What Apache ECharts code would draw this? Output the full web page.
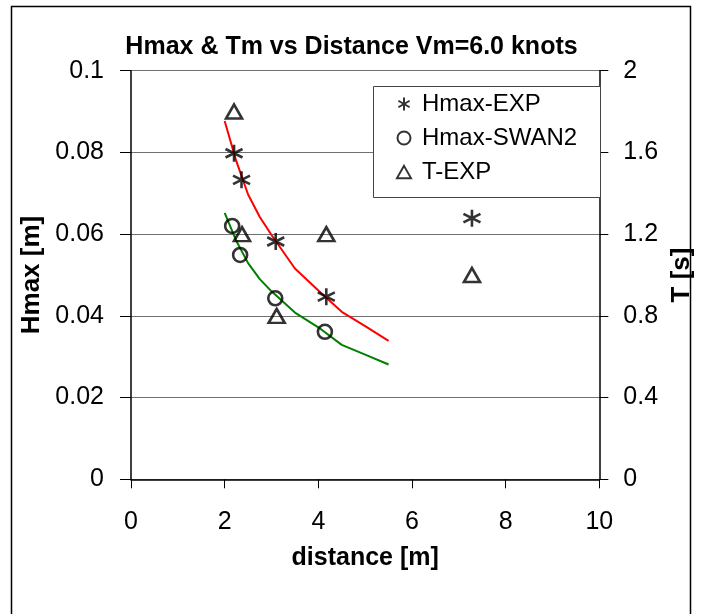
<!DOCTYPE html>
<html>
<head>
<meta charset="utf-8">
<script src="https://cdn.jsdelivr.net/npm/echarts@6/dist/echarts.min.js"></script>
<style>html,body{margin:0;padding:0;background:#fff;}#c{width:703px;height:614px;}</style>
</head>
<body>
<div id="c"></div>
<script>
// ---- data ----
const distEXP  = [2.2, 2.36, 3.09, 4.17, 7.28];
const hmaxEXP  = [0.0798, 0.0733, 0.0582, 0.0447, 0.0639];
const distSWAN = [2.16, 2.33, 3.08, 4.14];
const hmaxSWAN = [0.062, 0.0549, 0.0443, 0.0361];
const distT    = [2.2, 2.37, 3.11, 4.17, 7.28];
const tEXP     = [1.8, 1.2, 0.8, 1.2, 1.0];
const lineDist = [2.0, 2.25, 2.5, 2.75, 3.0, 3.5, 4.0, 4.5, 5.0, 5.5];
const redLine  = [0.0877, 0.0778, 0.0697, 0.0642, 0.0598, 0.0516, 0.0462, 0.041, 0.0375, 0.0339];
const greenLine= [0.0652, 0.0583, 0.0529, 0.049, 0.046, 0.0408, 0.0372, 0.0329, 0.0305, 0.0281];
const xTicks = [0, 2, 4, 6, 8, 10];
const hTicks = [0, 0.02, 0.04, 0.06, 0.08, 0.1];
const tTicks = [0, 0.4, 0.8, 1.2, 1.6, 2];

const zip = (a, b) => a.map((v, i) => [v, b[i]]);
const FONT = 'Liberation Sans';
const ASTER = 'path://M7,0L7,14M0.94,3.5L13.06,10.5M0.94,10.5L13.06,3.5';
const TRI = 'path://M8,0L16,14L0,14Z';

const chart = echarts.init(document.getElementById('c'), null, {renderer: 'canvas'});
const mk = {color: 'transparent', borderColor: '#000', borderWidth: 2.6};
chart.setOption({
  animation: false,
  backgroundColor: '#fff',
  textStyle: {fontFamily: FONT, color: '#000'},
  title: {
    text: 'Hmax & Tm vs Distance Vm=6.0 knots',
    left: 'center', top: 30,
    textStyle: {fontFamily: FONT, fontSize: 25, fontWeight: 'bold', color: '#000'}
  },
  graphic: [
    {type: 'rect', z: 0, silent: true, shape: {x: 11.5, y: 6.5, width: 679, height: 640},
     style: {fill: 'none', stroke: '#000', lineWidth: 1.5}},
    {type: 'rect', z: 3, silent: true, shape: {x: 373.5, y: 86.5, width: 227, height: 111},
     style: {fill: '#fff', stroke: '#444', lineWidth: 1}}
  ],
  legend: {
    orient: 'vertical', left: 396, top: 92, padding: 0, z: 4,
    itemWidth: 14, itemHeight: 13, itemGap: 10,
    data: ['Hmax-EXP', 'Hmax-SWAN2', 'T-EXP'],
    textStyle: {fontFamily: FONT, fontSize: 24, lineHeight: 24, color: '#000', padding: [0, 0, 0, 6]}
  },
  grid: {left: 131, right: 95, top: 70.7, bottom: 134.7, containLabel: false},
  xAxis: {
    type: 'value', min: xTicks[0], max: xTicks[xTicks.length - 1], interval: 2,
    name: 'distance [m]', nameLocation: 'middle', nameGap: 66,
    nameTextStyle: {fontFamily: FONT, fontSize: 25, fontWeight: 'bold', color: '#000'},
    axisLine: {lineStyle: {color: '#000', width: 1.5}},
    axisTick: {show: true, length: 9, lineStyle: {color: '#000'}},
    axisLabel: {fontFamily: FONT, fontSize: 25, color: '#000', margin: 30},
    splitLine: {show: false}
  },
  yAxis: [
    {
      type: 'value', min: hTicks[0], max: hTicks[hTicks.length - 1], interval: 0.02, position: 'left',
      name: 'Hmax [m]', nameLocation: 'middle', nameGap: 86, nameRotate: 90,
      nameTextStyle: {fontFamily: FONT, fontSize: 26, fontWeight: 'bold', color: '#000'},
      axisLine: {show: true, lineStyle: {color: '#000', width: 1.5}},
      axisTick: {show: true, length: 11, lineStyle: {color: '#000'}},
      axisLabel: {fontFamily: FONT, fontSize: 25, color: '#000', margin: 27,
        formatter: v => String(+v.toFixed(2))},
      splitLine: {show: true, lineStyle: {color: '#707070', width: 1}}
    },
    {
      type: 'value', min: tTicks[0], max: tTicks[tTicks.length - 1], interval: 0.4, position: 'right',
      name: 'T [s]', nameLocation: 'middle', nameGap: 68, nameRotate: 90,
      nameTextStyle: {fontFamily: FONT, fontSize: 26, fontWeight: 'bold', color: '#000'},
      axisLine: {show: true, lineStyle: {color: '#000', width: 1.5}},
      axisTick: {show: true, length: 9, lineStyle: {color: '#000'}},
      axisLabel: {fontFamily: FONT, fontSize: 25, color: '#000', margin: 24,
        formatter: v => String(+v.toFixed(1))},
      splitLine: {show: false}
    }
  ],
  series: [
    {name: 'redFit', type: 'line', data: zip(lineDist, redLine), showSymbol: false, symbol: 'none',
     lineStyle: {color: '#ff0000', width: 2}, itemStyle: {color: '#ff0000'}, z: 2},
    {name: 'greenFit', type: 'line', data: zip(lineDist, greenLine), showSymbol: false, symbol: 'none',
     lineStyle: {color: '#008000', width: 2}, itemStyle: {color: '#008000'}, z: 2},
    {name: 'Hmax-EXP', type: 'scatter', data: zip(distEXP, hmaxEXP), symbol: ASTER, symbolSize: 17,
     itemStyle: mk, z: 5},
    {name: 'Hmax-SWAN2', type: 'scatter', data: zip(distSWAN, hmaxSWAN), symbol: 'circle', symbolSize: 14,
     itemStyle: mk, z: 5},
    {name: 'T-EXP', type: 'scatter', yAxisIndex: 1, data: zip(distT, tEXP), symbol: TRI, symbolSize: [16, 14],
     itemStyle: mk, z: 5}
  ]
});
</script>
</body>
</html>
